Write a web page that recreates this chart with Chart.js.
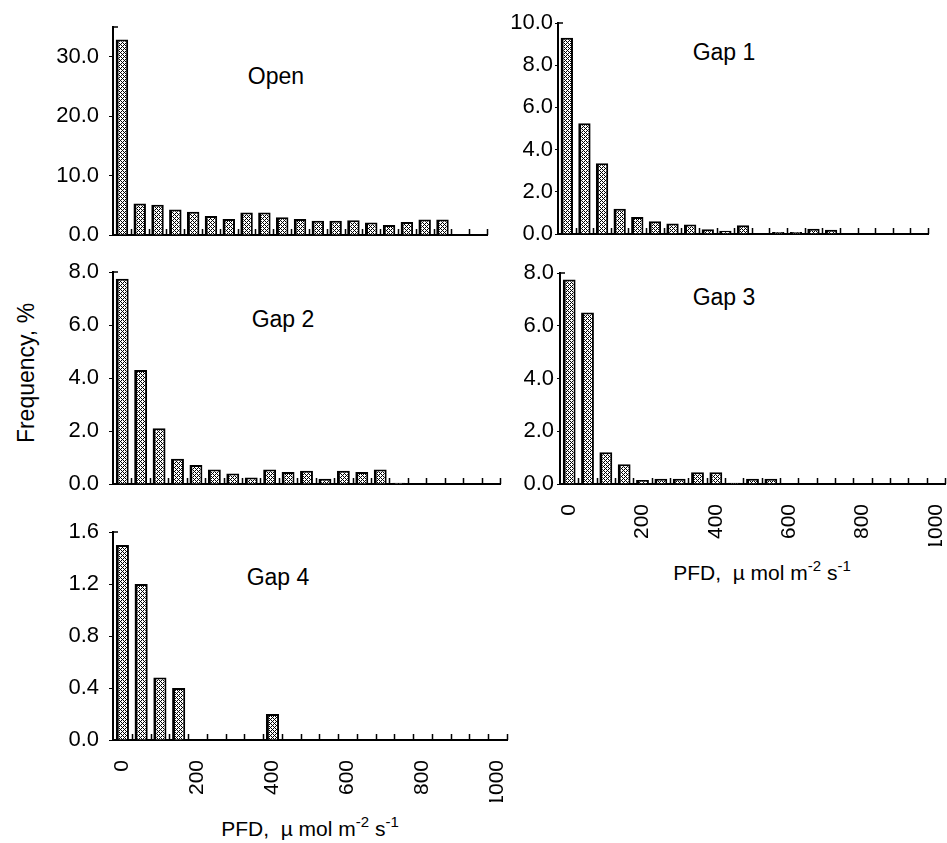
<!DOCTYPE html>
<html>
<head>
<meta charset="utf-8">
<script src="https://cdn.jsdelivr.net/npm/chart.js@4.4.1/dist/chart.umd.min.js"></script>
<style>
  html, body { margin: 0; padding: 0; background: #fff; }
  body { width: 947px; height: 843px; position: relative; overflow: hidden;
         font-family: "Liberation Sans", Arial, sans-serif; color: #000; }
  canvas { position: absolute; }
  .lbl { position: absolute; font-size: 23px; line-height: 1; white-space: nowrap;
         transform: translate(-50%, -50%); }
  .ytitle { transform: translate(-50%, -50%) rotate(-90deg); }
  .xtitle { font-size: 21px; }
  .xtitle sup { font-size: 15px; vertical-align: 0.55em; line-height: 0; }
</style>
</head>
<body>
<div class="lbl" style="left:276px;top:76px">Open</div>
<div class="lbl" style="left:724px;top:52px">Gap 1</div>
<div class="lbl" style="left:283px;top:319px">Gap 2</div>
<div class="lbl" style="left:724px;top:297px">Gap 3</div>
<div class="lbl" style="left:278px;top:577px">Gap 4</div>
<div class="lbl ytitle" style="left:26px;top:373px">Frequency, %</div>
<div class="lbl xtitle" style="left:310px;top:828px">PFD,&nbsp; µ mol m<sup>-2</sup> s<sup>-1</sup></div>
<div class="lbl xtitle" style="left:762px;top:572px">PFD,&nbsp; µ mol m<sup>-2</sup> s<sup>-1</sup></div>

<script>
// PFD bins, 50 wide
const binLabels = ['0', '50', '100', '150', '200', '250', '300', '350', '400', '450', '500',
  '550', '600', '650', '700', '750', '800', '850', '900', '950', '1000'];
const xTickLabels = ['0', '200', '400', '600', '800', '1000'];

// frequency, %
const openValues = [32.9, 5.3, 5.1, 4.3, 3.9, 3.2, 2.7, 3.8, 3.8, 3.0, 2.7,
  2.4, 2.4, 2.5, 2.1, 1.7, 2.2, 2.6, 2.6, 0, 0];
const gap1Values = [9.3, 5.25, 3.35, 1.2, 0.8, 0.6, 0.5, 0.45, 0.22, 0.15, 0.42,
  0, 0.1, 0.1, 0.25, 0.2, 0, 0, 0, 0, 0];
const gap2Values = [7.75, 4.3, 2.1, 0.95, 0.72, 0.55, 0.4, 0.25, 0.55, 0.45, 0.5,
  0.2, 0.5, 0.45, 0.55, 0.05, 0, 0, 0, 0, 0];
const gap3Values = [7.75, 6.5, 1.2, 0.75, 0.15, 0.2, 0.2, 0.45, 0.45, 0.05, 0.2,
  0.2, 0, 0, 0, 0, 0, 0, 0, 0, 0];
const gap4Values = [1.5, 1.2, 0.48, 0.4, 0, 0, 0, 0, 0.2, 0, 0,
  0, 0, 0, 0, 0, 0, 0, 0, 0, 0];

const FONT = '"Liberation Sans", Arial, sans-serif';
const Y_W = 80;
const PAD_T = 14;
const PAD_R = 14;

// plot area boxes: left, top, right, bottom
const panels = [
  { values: openValues, max: 35, step: 10, box: [113, 27, 487, 235], xLabels: false, pad: 10, tick: 4 },
  { values: gap1Values, max: 10, step: 2, box: [558, 23, 928, 234], xLabels: false, pad: 2, tick: 3 },
  { values: gap2Values, max: 8, step: 2, box: [113, 272, 500, 484], xLabels: false, pad: 10, tick: 4 },
  { values: gap3Values, max: 8, step: 2, box: [560, 273, 945, 484], xLabels: true, pad: 3, tick: 3 },
  { values: gap4Values, max: 1.6, step: 0.4, box: [113, 532, 507, 740], xLabels: true, pad: 10, tick: 4 },
];

// inward ticks on the x axis at bin edges, small cap at the top of the y axis
const axisMarks = {
  id: 'axisMarks',
  afterDatasetsDraw(chart) {
    const { ctx, chartArea, scales: { x } } = chart;
    ctx.save();
    ctx.strokeStyle = '#000';
    ctx.lineWidth = 1.5;
    ctx.beginPath();
    for (let i = 1; i <= x.getLabels().length; i++) {
      const px = Math.round(x.getPixelForValue(i - 0.5)) + 0.5;
      ctx.moveTo(px, chartArea.bottom);
      ctx.lineTo(px, chartArea.bottom - 6);
    }
    ctx.moveTo(chartArea.left, chartArea.top);
    ctx.lineTo(chartArea.left + 5, chartArea.top);
    ctx.stroke();
    ctx.restore();
  },
};

function stipple(ctx) {
  const c = document.createElement('canvas');
  c.width = 4;
  c.height = 4;
  const g = c.getContext('2d');
  g.fillStyle = '#fff';
  g.fillRect(0, 0, 4, 4);
  g.fillStyle = '#000';
  [[0, 0], [2, 0], [1, 1], [0, 2], [2, 2], [3, 3]].forEach(([a, b]) => g.fillRect(a, b, 1, 1));
  return ctx.createPattern(c, 'repeat');
}

function noPad(s) {
  s.paddingTop = 0;
  s.paddingBottom = 0;
  s.paddingLeft = 0;
  s.paddingRight = 0;
}

panels.forEach((p) => {
  const [l, t, r, b] = p.box;
  const xH = p.xLabels ? 62 : 4;
  const padB = p.xLabels ? 0 : 14;
  const canvas = document.createElement('canvas');
  canvas.width = Y_W + (r - l) + PAD_R;
  canvas.height = PAD_T + (b - t) + xH + padB;
  canvas.style.left = (l - Y_W) + 'px';
  canvas.style.top = (t - PAD_T) + 'px';
  document.body.appendChild(canvas);
  const ctx = canvas.getContext('2d');

  new Chart(ctx, {
    type: 'bar',
    data: {
      labels: binLabels,
      datasets: [{
        data: p.values,
        backgroundColor: stipple(ctx),
        borderColor: '#000',
        borderWidth: { top: 2, right: 2, bottom: 0, left: 3 },
        barPercentage: 0.7,
        categoryPercentage: 1,
      }],
    },
    options: {
      responsive: false,
      animation: false,
      devicePixelRatio: 1,
      layout: { padding: { left: 0, top: PAD_T, right: PAD_R, bottom: padB } },
      plugins: { legend: { display: false }, tooltip: { enabled: false } },
      scales: {
        x: {
          grid: { display: false },
          border: { color: '#000', width: 2 },
          ticks: {
            display: p.xLabels,
            autoSkip: false,
            minRotation: 90,
            maxRotation: 90,
            padding: 12,
            color: '#000',
            font: { family: FONT, size: 21 },
            callback(v) {
              const lab = this.getLabelForValue(v);
              return xTickLabels.includes(lab) ? lab : '';
            },
          },
          afterFit(s) { s.height = xH; noPad(s); },
        },
        y: {
          min: 0,
          max: p.max,
          ticks: {
            stepSize: p.step,
            includeBounds: false,
            padding: p.pad,
            color: '#000',
            font: { family: FONT, size: 22 },
            callback: (v) => v.toFixed(1),
          },
          grid: { drawOnChartArea: false, drawTicks: true, tickLength: p.tick, color: '#000' },
          border: { color: '#000', width: 2 },
          afterFit(s) { s.width = Y_W; noPad(s); },
        },
      },
    },
    plugins: [axisMarks],
  });
});
</script>
</body>
</html>
